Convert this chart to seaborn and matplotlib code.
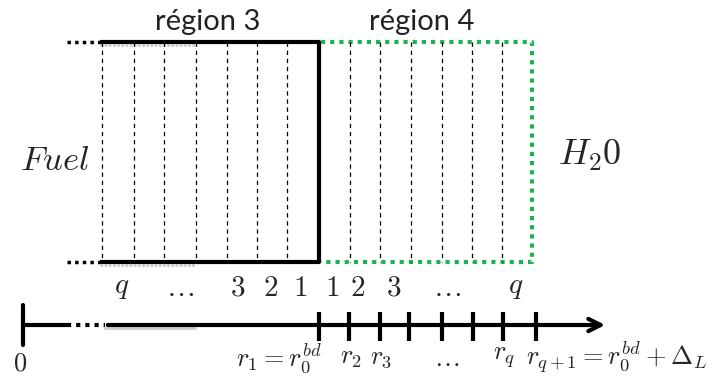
import matplotlib
matplotlib.use('Agg')
import matplotlib.pyplot as plt
import seaborn as sns

sns.set_theme(style='white')
plt.rcParams['mathtext.fontset'] = 'cm'
plt.rcParams['font.family'] = ['Lato', 'DejaVu Sans']

# Diagram layout (pixel units, y grows downwards)
top_y, bot_y = 42, 262
region3_x = [102, 134, 164, 196, 227, 257, 287]
region4_x = [350, 380, 411, 442, 472, 502]
interface_x = 319
right_x = 532
left_dotted = [67, 100]

cell_labels = ['$q$', '$\\ldots$', '$3$', '$2$', '$1$', '$1$', '$2$', '$3$', '$\\ldots$', '$q$']
cell_label_x = [122, 180, 238, 271, 300, 332, 358, 394, 447, 516]

axis_y = 325
axis_ticks = [319, 349, 380, 409, 442, 473, 503, 536]
radius_labels = ['$r_1 = r_0^{bd}$', '$r_2$', '$r_3$', '$\\ldots$', '$r_q$', '$r_{q+1} = r_0^{bd} + \\Delta_L$']
radius_label_x = [279, 351, 381, 447, 504, 526]

fig = plt.figure(figsize=(7.28, 3.78), dpi=100)
ax = fig.add_axes([0, 0, 1, 1])
ax.set_xlim(0, 728)
ax.set_ylim(378, 0)
ax.axis('off')

# region 3: black box
for y in (top_y, bot_y):
    ax.plot(left_dotted, [y, y], color='black', lw=2.5, ls=(0, (1, 1.2)))
    ax.plot([left_dotted[1], interface_x], [y, y], color='black', lw=3, solid_capstyle='butt')
    ax.plot([left_dotted[1], 195], [y + 3, y + 3], color='#999999', lw=2, alpha=0.5, ls=(0, (1, 0.5)))
ax.plot([interface_x, interface_x], [top_y, bot_y], color='black', lw=3)
ax.vlines(region3_x, top_y, bot_y, colors='black', lw=0.9, linestyles=(0, (3.5, 3)))

# region 4: green dotted box
green = '#1db34f'
ax.plot([interface_x + 2, right_x, right_x, interface_x + 2], [top_y, top_y, bot_y, bot_y],
        color=green, lw=3, ls=(0, (1, 1.2)))
ax.vlines(region4_x, top_y, bot_y, colors='black', lw=0.9, linestyles=(0, (3.5, 3)))

ax.text(208, 22, 'région 3', fontsize=21, ha='center', va='center', color='#222222')
ax.text(422, 22, 'région 4', fontsize=21, ha='center', va='center', color='#222222')
ax.text(55, 160, '$Fuel$', fontsize=25, ha='center', va='center')
ax.text(590, 155, '$H_20$', fontsize=26, ha='center', va='center')

for x, lab in zip(cell_label_x, cell_labels):
    ax.text(x, 288, lab, fontsize=21, ha='center', va='center')

# radial axis
ax.plot([23, 67], [axis_y, axis_y], color='black', lw=3, solid_capstyle='butt')
ax.plot([67, 105], [axis_y, axis_y], color='black', lw=3, ls=(0, (1, 1.2)))
ax.plot([105, 195], [axis_y + 3, axis_y + 3], color='#999999', lw=2, alpha=0.5)
ax.annotate('', xy=(608, axis_y), xytext=(105, axis_y),
            arrowprops=dict(arrowstyle='->', lw=3, color='black', mutation_scale=22))
ax.plot([23, 23], [305, 345], color='black', lw=3)
ax.vlines(axis_ticks, 312, 341, colors='black', lw=3)

ax.text(20, 363, '$0$', fontsize=19, ha='center', va='center')
for x, lab in zip(radius_label_x, radius_labels):
    ha = 'left' if lab.startswith('$r_{q+1}') else 'center'
    ax.text(x, 358, lab, fontsize=19, ha=ha, va='center')

fig.savefig('out.png', dpi=100)
